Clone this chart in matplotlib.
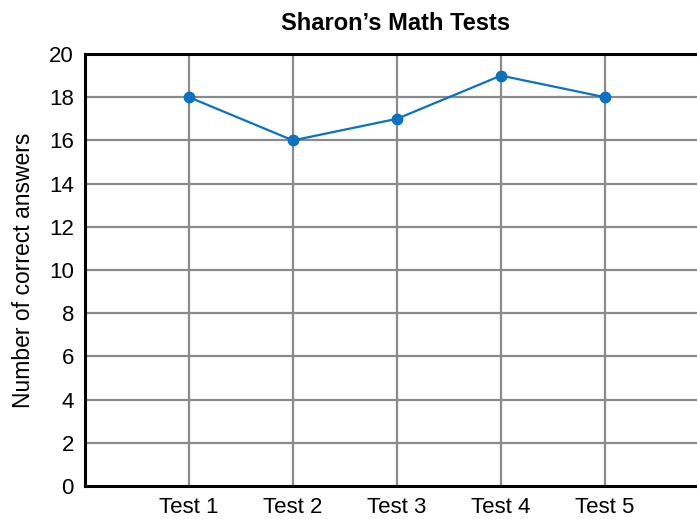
import matplotlib
matplotlib.use("Agg")
import matplotlib.pyplot as plt

tests = ["Test 1", "Test 2", "Test 3", "Test 4", "Test 5"]
correct = [18, 16, 17, 19, 18]
y_ticks = [0, 2, 4, 6, 8, 10, 12, 14, 16, 18, 20]

plt.rcParams["font.family"] = ["Liberation Sans", "DejaVu Sans"]

W, H = 697, 519
fig = plt.figure(figsize=(W / 100, H / 100), dpi=100)
# axes run slightly past the right edge of the canvas
left, right, top, bottom = 85, 709, 54, 486
ax = fig.add_axes([left / W, 1 - bottom / H, (right - left) / W, (bottom - top) / H])

x = list(range(1, len(tests) + 1))
ax.set_xlim(0, 6)
ax.set_ylim(0, 20)

for xv in x:
    ax.axvline(xv, color="#8a8a8a", lw=1.6, zorder=1)
for yv in y_ticks[1:-1]:
    ax.axhline(yv, color="#8a8a8a", lw=1.6, zorder=1)

ax.plot(x, correct, color="#0a72c0", lw=1.6, marker="o", ms=7.5, zorder=3)

ax.set_xticks(x)
ax.set_xticklabels(tests, fontsize=16)
ax.set_yticks(y_ticks)
ax.set_yticklabels([str(v) for v in y_ticks], fontsize=16)
ax.tick_params(length=0)
ax.tick_params(axis="y", pad=8)
ax.tick_params(axis="x", pad=8)

for side in ("left", "top", "bottom"):
    ax.spines[side].set_linewidth(2.2)
    ax.spines[side].set_color("black")
ax.spines["right"].set_visible(False)

ax.set_ylabel("Number of correct answers", fontsize=16.5, labelpad=10)

fig.text(396 / W, 1 - 24 / H, "Sharon’s Math Tests", fontsize=17, fontweight="bold",
         ha="center", va="center")

fig.savefig("out.png", dpi=100)
